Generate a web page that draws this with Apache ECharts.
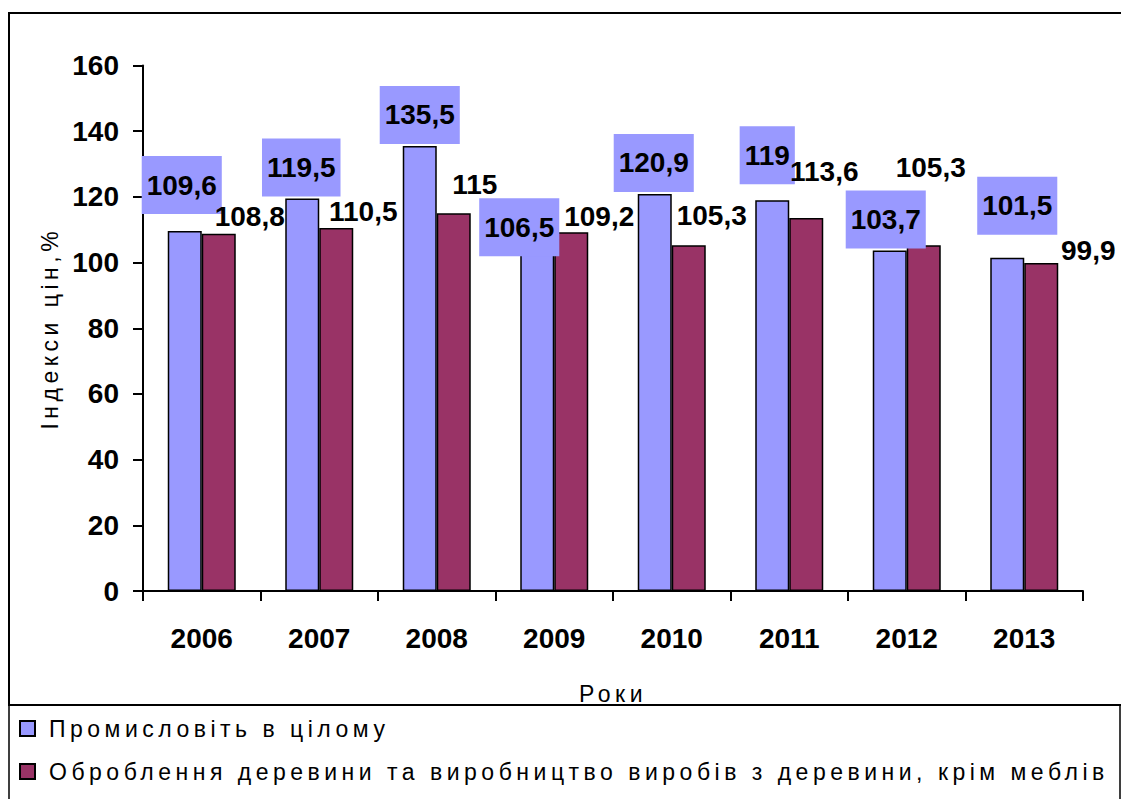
<!DOCTYPE html>
<html>
<head>
<meta charset="utf-8">
<script src="https://cdn.jsdelivr.net/npm/echarts@6/dist/echarts.min.js"></script>
<style>
  html, body { margin: 0; padding: 0; background: #fff; }
  #chart { width: 1121px; height: 799px; }
  #chart text[style*="Liberation Sans"]:not([style*="bold"]) { letter-spacing: 4.5px; }
</style>
</head>
<body>
<div id="chart"></div>
<script>
const categories = ['2006', '2007', '2008', '2009', '2010', '2011', '2012', '2013'];
const seriesNames = ['Промисловіть в цілому', 'Оброблення деревини та виробництво виробів з деревини, крім меблів'];
const industryValues = [109.6, 119.5, 135.5, 106.5, 120.9, 119, 103.7, 101.5];
const woodValues = [108.8, 110.5, 115, 109.2, 105.3, 113.6, 105.3, 99.9];
const yTicks = { min: 0, max: 160, interval: 20 };
const yAxisTitle = 'Індекси цін,%';
const xAxisTitle = 'Роки';

// label nudges (style only, relative to default 'top' label placement)
const industryLabelOffsets = [[-3, -12], [-1, 3], [0, 3], [-18, 20], [-1, 3], [-5, -11], [-4, 3], [10, -18]];
const woodLabelOffsets = [[31, 2], [27, 2], [21, -10], [28, 3], [23, -11], [18, -27], [7, -59], [47, 7]];

const fmt = v => String(v).replace('.', ',');
const BOLD = { fontFamily: 'Liberation Sans', fontWeight: 'bold', fontSize: 28, color: '#000' };
const NORMAL = { fontFamily: 'Liberation Sans', fontWeight: 'normal', fontSize: 23, color: '#000' };

const chart = echarts.init(document.getElementById('chart'), null, { renderer: 'svg' });
chart.setOption({
  animation: false,
  backgroundColor: '#fff',
  graphic: [
    { type: 'rect', shape: { x: 9, y: 13, width: 1200, height: 692 }, style: { fill: 'none', stroke: '#000', lineWidth: 2 }, silent: true, z: -1 },
    { type: 'rect', shape: { x: 9, y: 705, width: 1111, height: 200 }, style: { fill: 'none', stroke: '#000', lineWidth: 1.5 }, silent: true, z: -1 }
  ],
  grid: { left: 143, right: 1121 - 1083, top: 65.5, bottom: 799 - 591, containLabel: false },
  legend: {
    orient: 'vertical',
    left: 19,
    top: 717,
    padding: 0,
    itemWidth: 15,
    itemHeight: 15,
    itemGap: 20,
    icon: 'rect',
    data: seriesNames,
    textStyle: Object.assign({}, NORMAL, { padding: [0, 0, 0, 9] })
  },
  xAxis: {
    type: 'category',
    data: categories,
    boundaryGap: true,
    name: xAxisTitle,
    nameLocation: 'middle',
    nameGap: 91,
    nameTextStyle: NORMAL,
    axisLine: { lineStyle: { color: '#000', width: 2 } },
    axisTick: { show: true, length: 10, inside: false, alignWithLabel: false, lineStyle: { color: '#000', width: 2 } },
    axisLabel: Object.assign({ margin: 33 }, BOLD)
  },
  yAxis: {
    type: 'value',
    min: yTicks.min,
    max: yTicks.max,
    interval: yTicks.interval,
    name: yAxisTitle,
    nameLocation: 'middle',
    nameGap: 80,
    nameTextStyle: NORMAL,
    splitLine: { show: false },
    axisLine: { show: true, lineStyle: { color: '#000', width: 2 } },
    axisTick: { show: true, length: 10, lineStyle: { color: '#000', width: 2 } },
    axisLabel: Object.assign({ margin: 24 }, BOLD)
  },
  series: [
    {
      name: seriesNames[0],
      type: 'bar',
      barWidth: 34,
      barGap: '0%',
      itemStyle: { color: '#9999FF', borderColor: '#000', borderWidth: 1.5 },
      data: industryValues.map((v, i) => ({
        value: v,
        label: { offset: industryLabelOffsets[i] }
      })),
      label: Object.assign({
        show: true,
        position: 'top',
        distance: 5,
        backgroundColor: '#9999FF',
        padding: [15, 5],
        formatter: p => fmt(p.value)
      }, BOLD)
    },
    {
      name: seriesNames[1],
      type: 'bar',
      barWidth: 34,
      itemStyle: { color: '#993366', borderColor: '#000', borderWidth: 1.5 },
      data: woodValues.map((v, i) => ({
        value: v,
        label: { offset: woodLabelOffsets[i] }
      })),
      label: Object.assign({
        show: true,
        position: 'top',
        distance: 5,
        formatter: p => fmt(p.value)
      }, BOLD)
    }
  ]
});
</script>
</body>
</html>
